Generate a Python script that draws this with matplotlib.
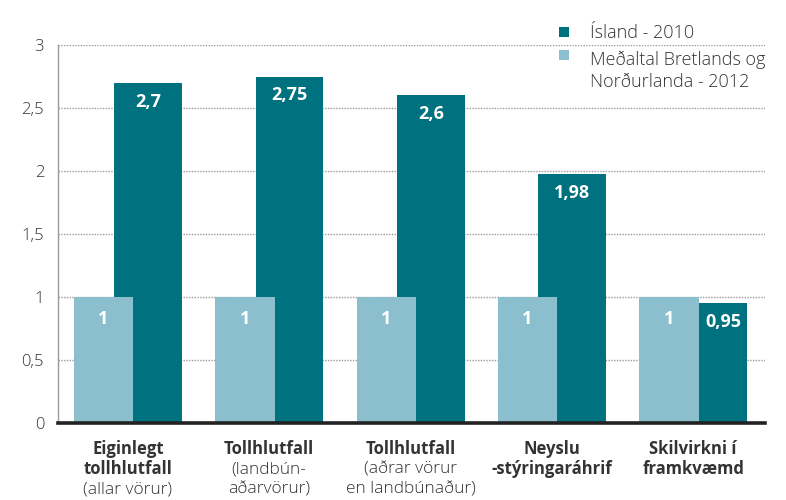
import matplotlib
matplotlib.use("Agg")
import matplotlib.pyplot as plt
from matplotlib.patches import Rectangle

plt.rcParams['font.family'] = ['Open Sans', 'DejaVu Sans']

# ---- data ----
categories_bold = ["Eiginlegt\ntollhlutfall", "Tollhlutfall", "Tollhlutfall",
                   "Neyslu\n-stýringaráhrif", "Skilvirkni í\nframkvæmd"]
categories_sub = ["(allar vörur)", "(landbún-\naðarvörur)", "(aðrar vörur\nen landbúnaður)", "", ""]
series_names = ["Ísland - 2010", "Meðaltal Bretlands og\nNorðurlanda - 2012"]
island_2010 = [2.7, 2.75, 2.6, 1.98, 0.95]
average_2012 = [1, 1, 1, 1, 1]
island_labels = ["2,7", "2,75", "2,6", "1,98", "0,95"]
average_labels = ["1", "1", "1", "1", "1"]
yticks = [0, 0.5, 1, 1.5, 2, 2.5, 3]
ytick_labels = ["0", "0,5", "1", "1,5", "2", "2,5", "3"]

DARK = "#00717f"
LIGHT = "#8cbfce"
TXT = "#333333"

W, H = 786, 500
fig = plt.figure(figsize=(W / 100, H / 100), dpi=100)
ax = fig.add_axes([58 / W, 77 / H, 707 / W, 378 / H])

x = list(range(len(island_2010)))
light_w = 0.42
dark_w = 0.477
half = 0.382
light_c = [i - half + light_w / 2 for i in x]
dark_c = [i + half - dark_w / 2 for i in x]

ax.bar(dark_c, island_2010, width=dark_w, color=DARK, zorder=2, linewidth=0)
ax.bar(light_c, average_2012, width=light_w, color=LIGHT, zorder=3, linewidth=0)

# value labels
for i in x:
    ax.annotate(average_labels[i], xy=(light_c[i], average_2012[i]), xytext=(0, -22),
                textcoords='offset pixels', ha='center', va='center', color='white',
                fontsize=13, fontweight='bold', zorder=5)
    if island_2010[i] >= average_2012[i]:
        xc = dark_c[i]
    else:
        xc = (i - half + light_w + i + half) / 2
    ax.annotate(island_labels[i], xy=(xc, island_2010[i]), xytext=(0, -19),
                textcoords='offset pixels', ha='center', va='center', color='white',
                fontsize=13, fontweight='bold', zorder=5)

# category labels
for i in x:
    lines = [(l, 'bold', 12) for l in categories_bold[i].split("\n")]
    if categories_sub[i]:
        lines += [(l, 'light', 12.5) for l in categories_sub[i].split("\n")]
    for j, (t, w, fs) in enumerate(lines):
        ax.annotate(t, xy=(i, 0), xycoords=('data', 'axes fraction'),
                    xytext=(0, -26 - 20 * j), textcoords='offset pixels',
                    ha='center', va='center', fontsize=fs, fontweight=w, color=TXT)

ax.set_xlim(-0.494, 4.508)
ax.set_ylim(0, 3)
ax.set_yticks(yticks)
ax.set_yticklabels(ytick_labels)
ax.set_xticks([])
ax.tick_params(axis='y', length=0, pad=10, labelsize=12, labelcolor=TXT)
for lab in ax.get_yticklabels():
    lab.set_fontweight('light')

ax.yaxis.grid(True, linestyle=(0, (1, 1)), color='#9a9a9a', linewidth=1)
ax.set_axisbelow(True)
for s in ['top', 'right', 'bottom']:
    ax.spines[s].set_visible(False)
ax.spines['left'].set_linestyle((0, (1, 1)))
ax.spines['left'].set_color('#9a9a9a')
ax.spines['left'].set_linewidth(1)
ax.axhline(0, color='#222222', linewidth=2.6, zorder=6, clip_on=False)

# legend (manual)
colors = [DARK, LIGHT]
sq_top = [27, 50]
text_base = [38, 65]
for k in range(2):
    fig.patches.append(Rectangle((559 / W, (H - sq_top[k] - 10) / H), 10 / W, 10 / H,
                                 transform=fig.transFigure, color=colors[k], linewidth=0))
    for j, line in enumerate(series_names[k].split("\n")):
        fig.text(590 / W, (H - text_base[k] - 22 * j) / H, line, ha='left', va='baseline',
                 fontsize=13, fontweight='light', color=TXT)

fig.savefig("out.png", dpi=100)
